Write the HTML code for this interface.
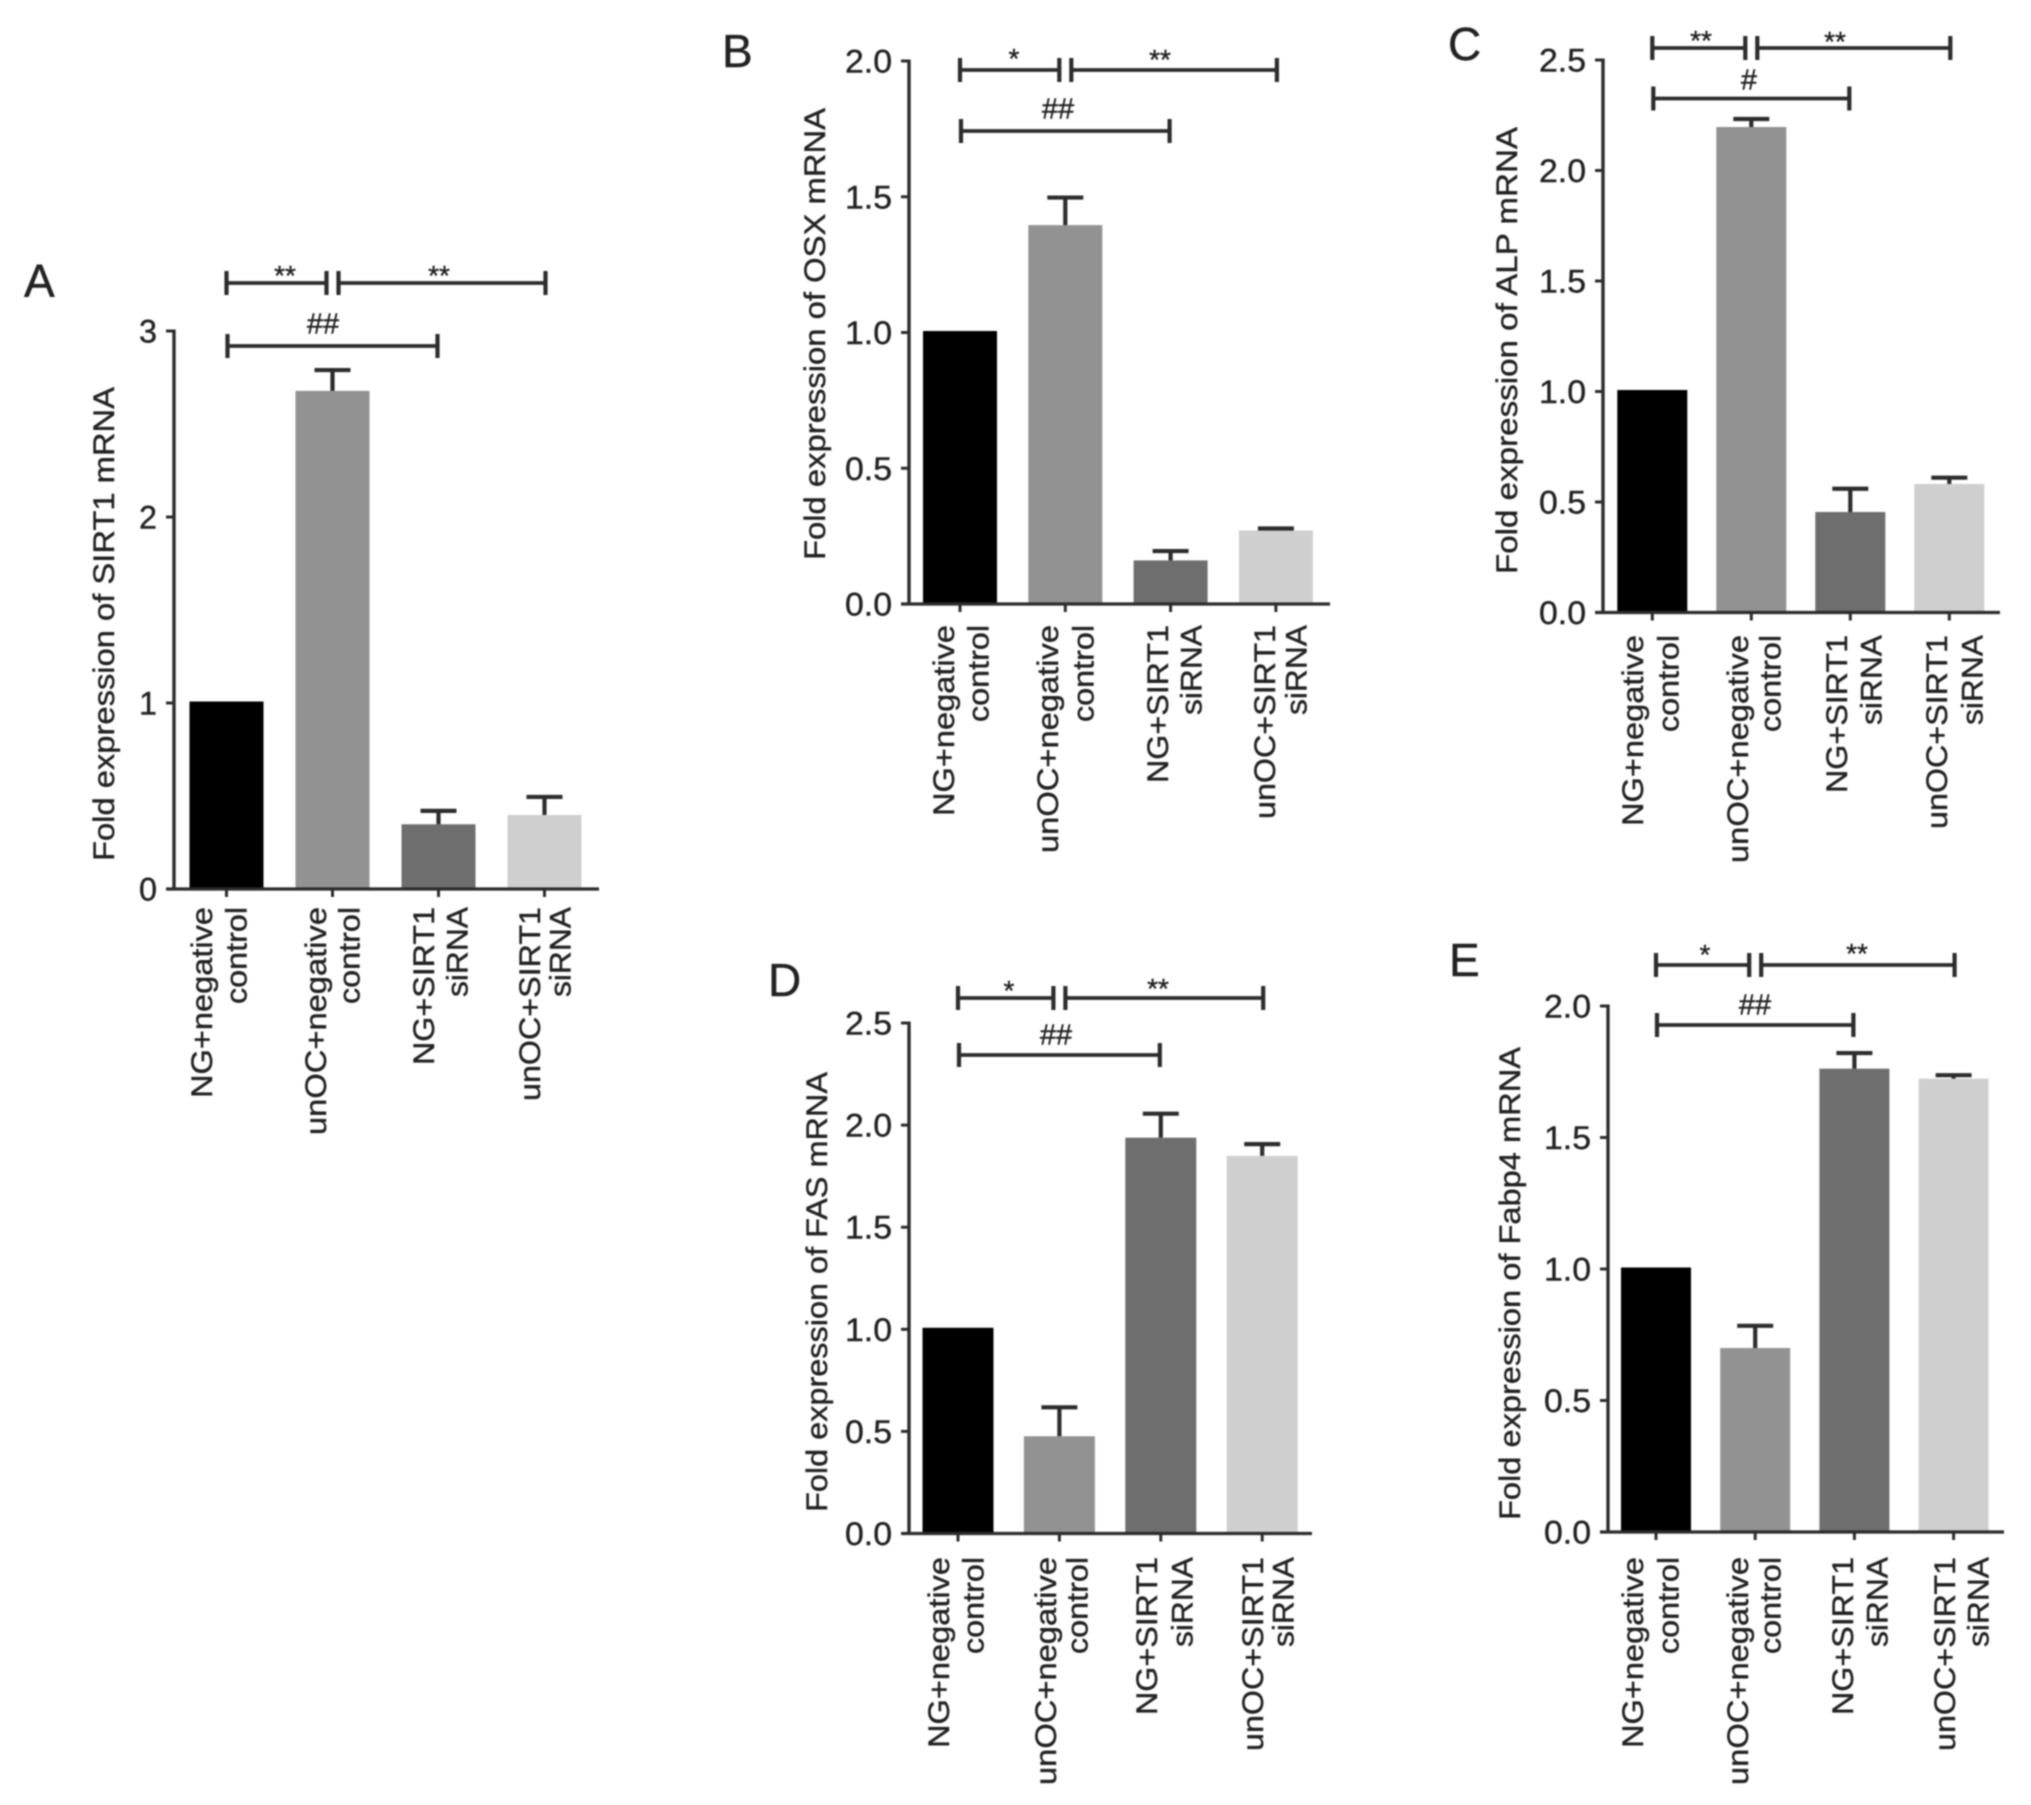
<!DOCTYPE html>
<html lang="en">
<head>
<meta charset="utf-8">
<title>Fold expression of mRNA panels</title>
<style>
html,body{margin:0;padding:0;background:#fff;width:2031px;height:1805px;overflow:hidden}
svg{display:block;filter:blur(0.7px)}
text{font-family:"Liberation Sans",Arial,sans-serif;fill:#222;stroke:#222;stroke-width:0.4px}
</style>
</head>
<body>
<svg id="figure" xmlns="http://www.w3.org/2000/svg" width="2031" height="1805" viewBox="0 0 2031 1805"></svg>
<script>
const categoryLines = [["NG+negative","control"],["unOC+negative","control"],["NG+SIRT1","siRNA"],["unOC+SIRT1","siRNA"]];

const sirt1Means = [1, 2.67, 0.34, 0.39];
const sirt1Errors = [0, 0.12, 0.08, 0.105];
const sirt1Ticks = ["0","1","2","3"];
const sirt1TickValues = [0,1,2,3];
const sirt1Sig = ["**","**","##"];

const osxMeans = [1, 1.39, 0.155, 0.265];
const osxErrors = [0, 0.107, 0.04, 0.013];
const osxTicks = ["0.0","0.5","1.0","1.5","2.0"];
const osxTickValues = [0,0.5,1,1.5,2];
const osxSig = ["*","**","##"];

const alpMeans = [1, 2.19, 0.448, 0.575];
const alpErrors = [0, 0.043, 0.112, 0.035];
const alpTicks = ["0.0","0.5","1.0","1.5","2.0","2.5"];
const alpTickValues = [0,0.5,1,1.5,2,2.5];
const alpSig = ["**","**","#"];

const fasMeans = [1, 0.469, 1.931, 1.842];
const fasErrors = [0, 0.149, 0.125, 0.065];
const fasTicks = ["0.0","0.5","1.0","1.5","2.0","2.5"];
const fasTickValues = [0,0.5,1,1.5,2,2.5];
const fasSig = ["*","**","##"];

const fabp4Means = [1, 0.694, 1.756, 1.718];
const fabp4Errors = [0, 0.09, 0.065, 0.019];
const fabp4Ticks = ["0.0","0.5","1.0","1.5","2.0"];
const fabp4TickValues = [0,0.5,1,1.5,2];
const fabp4Sig = ["*","**","##"];

/* Layout only: pixel geometry of each panel, no data. */
const panels = [
 {id:"a",letter:"A",title:"Fold expression of SIRT1 mRNA",means:sirt1Means,errors:sirt1Errors,ticks:sirt1Ticks,tickValues:sirt1TickValues,sig:sirt1Sig,
  axisX:174,top:331,bottom:889,right:599,first:226.5,step:106,barW:74,
  titleX:114,titleTop:387,titleBottom:861,labelTop:907,
  lineX:[[212,246.5],[326,359.5],[434,467.5],[540,570.5]],
  brY:[283,346],sigPos:[[285,269],[439,269],[323,323]],letterPos:[24,297]},
 {id:"b",letter:"B",title:"Fold expression of OSX mRNA",means:osxMeans,errors:osxErrors,ticks:osxTicks,tickValues:osxTickValues,sig:osxSig,
  axisX:909,top:61,bottom:604,right:1330,first:960,step:105.3,barW:74,
  titleX:825,titleTop:108,titleBottom:560,labelTop:625,
  lineX:[[954,988.5],[1058,1093.5],[1168,1201.5],[1275,1306.5]],
  brY:[70,131],sigPos:[[1014,52],[1160,53],[1058,108]],letterPos:[722,67]},
 {id:"c",letter:"C",title:"Fold expression of ALP mRNA",means:alpMeans,errors:alpErrors,ticks:alpTicks,tickValues:alpTickValues,sig:alpSig,
  axisX:1603,top:60,bottom:612.5,right:2000,first:1652.3,step:99,barW:70,
  titleX:1517,titleTop:127,titleBottom:574,labelTop:635,
  lineX:[[1643,1678.5],[1748,1780.5],[1847,1881.5],[1947,1982.5]],
  brY:[48,98.5],sigPos:[[1701,34],[1835,35],[1749,79]],letterPos:[1448,60]},
 {id:"d",letter:"D",title:"Fold expression of FAS mRNA",means:fasMeans,errors:fasErrors,ticks:fasTicks,tickValues:fasTickValues,sig:fasSig,
  axisX:909,top:1023,bottom:1533.5,right:1312,first:958,step:101.4,barW:71,
  titleX:827,titleTop:1072,titleBottom:1512,labelTop:1557,
  lineX:[[949,983.5],[1056,1087.5],[1157,1192.5],[1263,1293.5]],
  brY:[998,1055],sigPos:[[1009,984],[1158,982],[1056,1034]],letterPos:[768,996]},
 {id:"e",letter:"E",title:"Fold expression of Fabp4 mRNA",means:fabp4Means,errors:fabp4Errors,ticks:fabp4Ticks,tickValues:fabp4TickValues,sig:fabp4Sig,
  axisX:1608,top:1006,bottom:1532,right:2004,first:1656,step:99.2,barW:70,
  titleX:1520,titleTop:1047,titleBottom:1520,labelTop:1557,
  lineX:[[1643,1678.5],[1748,1780.5],[1853,1887.5],[1955,1988.5]],
  brY:[965,1025],sigPos:[[1705,948],[1857,947],[1755,1004]],letterPos:[1449,976]}
];

const barFills = ["#000000","#929292","#6e6e6e","#cfcfcf"];
const labelLengths = {"NG+negative":191,"unOC+negative":228,"NG+SIRT1":158,"unOC+SIRT1":194,"control":97,"siRNA":90};
const bracketSpans = [[0,0,1,-6],[1,6,3,1],[0,1,2,-1]];
const NS = "http://www.w3.org/2000/svg";
const ink = "#2c2c2c";
const root = document.getElementById("figure");

function make(tag, parent, attrs, content){
  const n = document.createElementNS(NS, tag);
  for (const k in attrs) n.setAttribute(k, attrs[k]);
  if (content !== undefined) n.textContent = content;
  parent.appendChild(n);
  return n;
}
function line(parent, x1, y1, x2, y2, w){
  return make("line", parent, {x1:x1, y1:y1, x2:x2, y2:y2, stroke:ink, "stroke-width":w});
}

panels.forEach(function(p){
  const yScale = function(v){
    const maxV = p.tickValues[p.tickValues.length-1];
    return p.bottom - v / maxV * (p.bottom - p.top);
  };
  const xScale = function(i){ return p.first + i * p.step; };

  const g = make("g", root, {});
  
  

  const letter = make("text", g, {x:p.letterPos[0], y:p.letterPos[1], "font-size":46}, p.letter);
  
  

  /* bars and error bars */
  p.means.forEach(function(v, i){
    const cx = xScale(i), yTop = yScale(v) - 1.5;
    const bar = make("rect", g, {x:cx - p.barW/2, y:yTop, width:p.barW, height:p.bottom - yTop, fill:barFills[i]});
    
    
    if (p.errors[i] > 0) {
      const yErr = yScale(v + p.errors[i]);
      const eg = make("g", g, {});
      
      
      line(eg, cx, yTop, cx, yErr, 4.2);
      line(eg, cx - 18, yErr, cx + 18, yErr, 4.2);
    }
  });

  /* axes */
  const yAxis = make("g", g, {});
  
  
  line(yAxis, p.axisX, p.top - 1.5, p.axisX, p.bottom + 1.5, 3.4);
  p.tickValues.forEach(function(v, i){
    const ty = yScale(v);
    line(yAxis, p.axisX - 8, ty, p.axisX, ty, 3);
    const lab = p.ticks[i];
    const t = make("text", yAxis, {x:p.axisX - 17, y:ty + 11.5, "text-anchor":"end", "font-size":32, textLength:lab.length === 1 ? 18 : 47, lengthAdjust:"spacingAndGlyphs"}, lab);
    
    
  });

  const xAxis = make("g", g, {});
  
  
  line(xAxis, p.axisX - 8, p.bottom, p.right, p.bottom, 3.2);
  categoryLines.forEach(function(lines, i){
    const cx = xScale(i);
    line(xAxis, cx, p.bottom, cx, p.bottom + 8, 3);
    lines.forEach(function(str, j){
      const bx = p.lineX[i][j];
      const t = make("text", xAxis, {transform:"translate(" + bx + "," + p.labelTop + ") rotate(-90)", "text-anchor":"end", "font-size":30, textLength:labelLengths[str], lengthAdjust:"spacingAndGlyphs"}, str);
      
      
    });
  });

  const title = make("text", g, {transform:"translate(" + p.titleX + "," + ((p.titleTop + p.titleBottom)/2) + ") rotate(-90)", "text-anchor":"middle", "font-size":30, textLength:p.titleBottom - p.titleTop, lengthAdjust:"spacingAndGlyphs"}, p.title);
  
  

  /* significance brackets */
  bracketSpans.forEach(function(s, k){
    const x1 = xScale(s[0]) + s[1], x2 = xScale(s[2]) + s[3];
    const by = k === 2 ? p.brY[1] : p.brY[0];
    const bg = make("g", g, {});
    
    
    line(bg, x1, by, x2, by, 3.8);
    line(bg, x1, by - 12, x1, by + 12, 4.2);
    line(bg, x2, by - 12, x2, by + 12, 4.2);
    const sym = p.sig[k];
    const isHash = sym.charAt(0) === "#";
    const t = make("text", bg, {x:p.sigPos[k][0], y:p.sigPos[k][1] + (isHash ? 10.5 : 16), "text-anchor":"middle", "font-size":isHash ? 29 : 28}, sym);
    
    
  });
});
</script>
</body>
</html>
